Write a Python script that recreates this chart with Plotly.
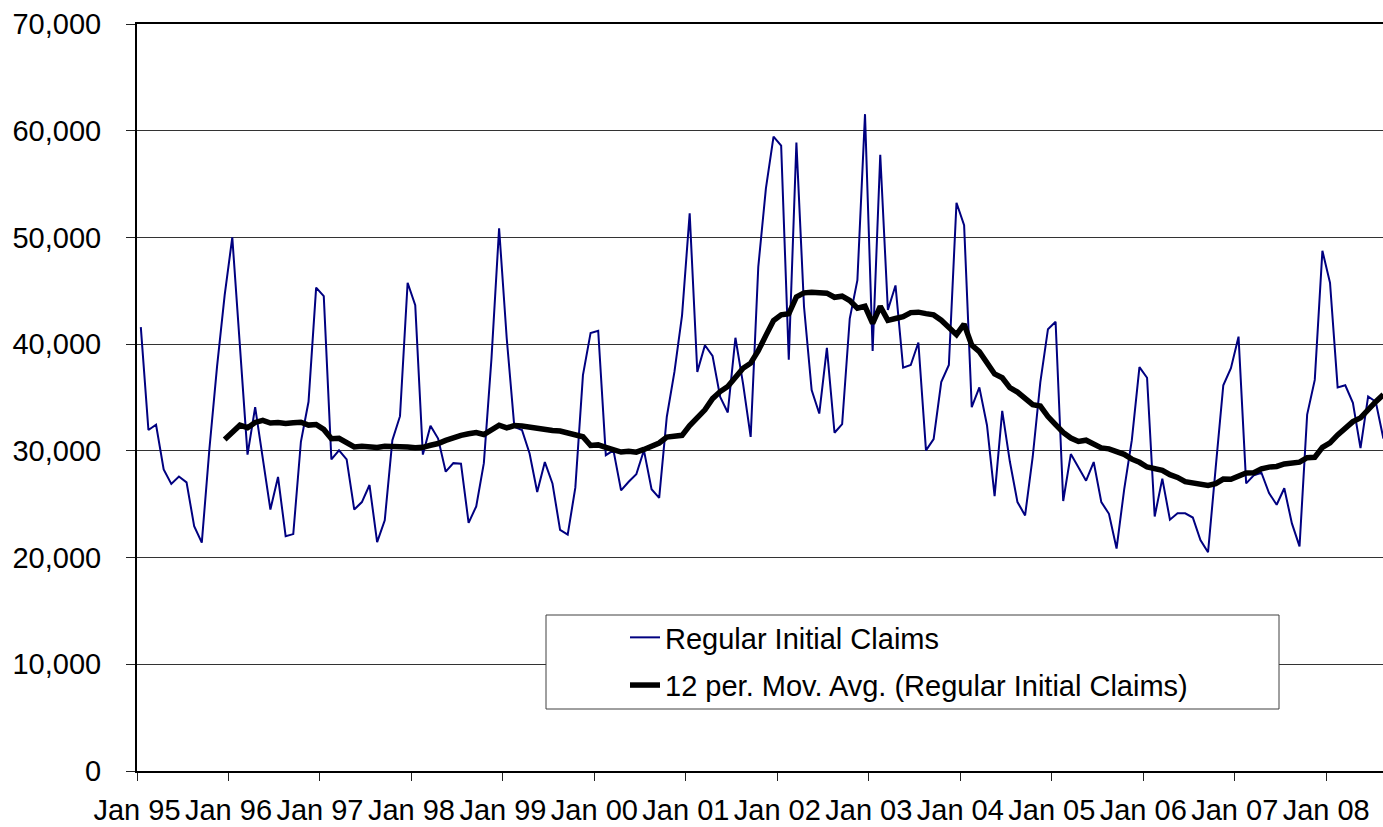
import pandas as pd
import plotly.graph_objects as go

# ---- data (monthly, Jan 1995 .. Aug 2008) ----
start_month = "1995-01"
claims = [
    41600, 31950, 32450, 28250, 26900, 27600, 27050, 22950, 21400, 30200, 37900, 44600,  # 1995
    50000, 39600, 29650, 34100, 29300, 24500, 27550, 22000, 22200, 30850, 34600, 45300,  # 1996
    44500, 29200, 30050, 29200, 24500, 25200, 26800, 21450, 23500, 31000, 33250, 45750,  # 1997
    43650, 29650, 32350, 31150, 28050, 28850, 28800, 23250, 24800, 28850, 38650, 50850,  # 1998
    40550, 32250, 31950, 29750, 26150, 28950, 26950, 22600, 22150, 26550, 37100, 41050,  # 1999
    41250, 29600, 30050, 26300, 27100, 27800, 30050, 26400, 25600, 33200, 37400, 42700,  # 2000
    52250, 37400, 39900, 38900, 35050, 33600, 40600, 36300, 31300, 47250, 54600, 59450,  # 2001
    58600, 38550, 58900, 43500, 35700, 33500, 39650, 31700, 32500, 42400, 46000, 61550,  # 2002
    39350, 57750, 43200, 45500, 37800, 38050, 40150, 30050, 31100, 36450, 38050, 53250,  # 2003
    51150, 34100, 35950, 32400, 25750, 33750, 29000, 25200, 23950, 29450, 36450, 41400,  # 2004
    42100, 25300, 29700, 28450, 27200, 28950, 25200, 24100, 20850, 26400, 31000, 37850,  # 2005
    36850, 23850, 27400, 23550, 24150, 24150, 23750, 21650, 20500, 28400, 36150, 37750,  # 2006
    40700, 26950, 27700, 27950, 26050, 24950, 26500, 23200, 21050, 33400, 36650, 48750,  # 2007
    45750, 35950, 36150, 34500, 30250, 35100, 34600, 31150,                              # 2008
]
tick_labels = ["Jan 95", "Jan 96", "Jan 97", "Jan 98", "Jan 99", "Jan 00", "Jan 01",
               "Jan 02", "Jan 03", "Jan 04", "Jan 05", "Jan 06", "Jan 07", "Jan 08"]
series_names = ["Regular Initial Claims", "12 per. Mov. Avg. (Regular Initial Claims)"]
ma_period = 12

# ---- derived: Excel-style trailing moving-average trendline ----
months = pd.period_range(start_month, periods=len(claims), freq="M")
month_idx = [(m.year - months[0].year) * 12 + (m.month - months[0].month) for m in months]
x_mid = [i + 0.5 for i in month_idx]          # points sit mid-month on a date axis
moving_avg = pd.Series(claims, dtype=float).rolling(ma_period).mean().tolist()

FONT = "Liberation Sans, Arial, Helvetica, sans-serif"
W, H = 1383, 827
L, R, T, B = 137, 0, 24, 56

fig = go.Figure()
fig.add_trace(go.Scatter(
    x=x_mid, y=claims, mode="lines", name=series_names[0], legendgroup="a",
    line=dict(color="#000080", width=2),
))
fig.add_trace(go.Scatter(
    x=x_mid, y=moving_avg, mode="lines", name=series_names[1], legendgroup="b",
    line=dict(color="#000000", width=5.5),
))

pw, ph = W - L - R, H - T - B
def px_x(p):
    return (p - L) / pw
def px_y(p):
    return (H - B - p) / ph

# legend frame
fig.add_shape(type="rect", xref="paper", yref="paper",
              x0=px_x(546), x1=px_x(1279), y0=px_y(709), y1=px_y(615),
              fillcolor="white", line=dict(color="#404040", width=1), layer="above")

fig.update_layout(
    width=W, height=H,
    margin=dict(l=L, r=R, t=T, b=B, autoexpand=False),
    paper_bgcolor="white", plot_bgcolor="white",
    font=dict(family=FONT, size=29, color="black"),
    showlegend=True,
    legend=dict(
        x=px_x(625), y=px_y(612), xanchor="left", yanchor="top",
        bgcolor="rgba(0,0,0,0)", borderwidth=0,
        font=dict(family=FONT, size=29, color="black"),
        tracegroupgap=7,
    ),
    xaxis=dict(
        range=[0, 163.45],
        tickmode="array",
        tickvals=[12 * k for k in range(len(tick_labels))],
        ticktext=tick_labels,
        ticks="outside", ticklen=8, tickwidth=1, tickcolor="#222",
        showgrid=False, zeroline=False, automargin=False,
        showline=True, linecolor="black", linewidth=2, mirror=True,
        ticklabelstandoff=4,
        tickfont=dict(family=FONT, size=29, color="black"),
    ),
    yaxis=dict(
        range=[0, 70000],
        tickmode="array",
        tickvals=list(range(0, 70001, 10000)),
        tickformat=",d",
        ticks="outside", ticklen=9, tickwidth=1, tickcolor="#222",
        showgrid=True, gridcolor="#333333", gridwidth=1,
        zeroline=False, automargin=False,
        showline=True, linecolor="black", linewidth=2,
        ticklabelstandoff=19,
        tickfont=dict(family=FONT, size=29, color="black"),
    ),
)

fig.write_html("out.html", config={"displayModeBar": False},
               post_script="document.body.style.margin='0';document.body.style.overflow='hidden';")
